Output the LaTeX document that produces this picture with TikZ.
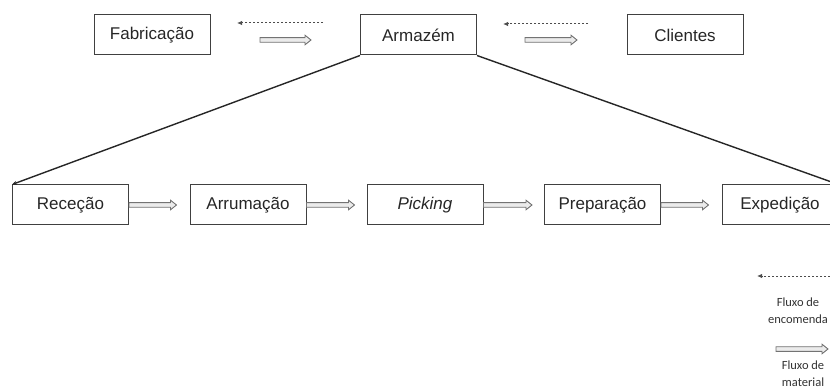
\documentclass[tikz,border=0pt]{standalone}
\usepackage{fontspec}
\setmainfont{Liberation Sans}
\newfontfamily\legendfont{Carlito}
\usetikzlibrary{arrows.meta,calc}

\begin{document}
\begin{tikzpicture}[x=1pt,y=-1pt,
  box/.style={draw=black!75, line width=1pt, minimum width=116pt, minimum height=40pt,
    inner sep=0pt, font=\fontsize{17}{20}\selectfont, text=black!85},
  % hollow block arrow for the material flow
  flow/.style={draw=black!55, fill=black!8, line width=0.9pt, line join=miter,
    to path={let \p1=(\tikztostart), \p2=(\tikztotarget) in
      (\x1,{\y1+2.3pt}) -- ({\x2-6pt},{\y1+2.3pt}) -- ({\x2-6pt},{\y1+4.8pt})
      -- (\x2,\y1) -- ({\x2-6pt},{\y1-4.8pt}) -- ({\x2-6pt},{\y1-2.3pt})
      -- (\x1,{\y1-2.3pt}) -- cycle}},
  order/.style={draw=black!70, line width=1pt, dash pattern=on 2pt off 2pt,
    -{Latex[length=5pt,width=4.5pt]}},
  link/.style={draw=black!85, line width=1.4pt},
  legend/.style={font=\legendfont\fontsize{12.5}{17}\selectfont, align=center, text=black!80}]

  \useasboundingbox (0,0) rectangle (830,390);
  \clip (0,0) rectangle (830,390);

  % supply chain level
  \node[box] (fab) at (152,35) {Fabricação};
  \node[box] (arm) at (418.5,35) {Armazém};
  \node[box] (cli) at (685,35) {Clientes};

  % warehouse processes
  \node[box] (rec) at (70.5,205) {Receção};
  \node[box] (arr) at (248,205) {Arrumação};
  \node[box] (pic) at (425,205) {\itshape Picking};
  \node[box] (pre) at (602.5,205) {Preparação};
  \node[box] (exp) at (780,205) {Expedição};

  % flows between the top-level actors
  \coordinate (o1s) at (323,23);  \coordinate (o1e) at (237,23);
  \coordinate (m1s) at (260,40);  \coordinate (m1e) at (311,40);
  \coordinate (o2s) at (588,24);  \coordinate (o2e) at (503,24);
  \coordinate (m2s) at (525,40);  \coordinate (m2e) at (577,40);
  \draw[order] (o1s) -- (o1e);
  \draw[flow] (m1s) to (m1e);
  \draw[order] (o2s) -- (o2e);
  \draw[flow] (m2s) to (m2e);

  % expansion of the warehouse
  \draw[link, -{Stealth[length=5pt,width=4pt]}] (arm.south west) -- (rec.north west);
  \draw[link, -{Stealth[length=5pt,width=4pt]}] (arm.south east) -- (exp.north east);

  % material flow through the processes
  \draw[flow] (rec.east) to ([xshift=-13pt]arr.west);
  \draw[flow] (arr.east) to ([xshift=-12pt]pic.west);
  \draw[flow] (pic.east) to ([xshift=-12pt]pre.west);
  \draw[flow] (pre.east) to ([xshift=-13pt]exp.west);

  % legend
  \coordinate (lo1) at (830,276); \coordinate (lo2) at (757,276);
  \draw[order] (lo1) -- (lo2);
  \node[legend] (lt1) at (798,311) {Fluxo de\\encomenda};
  \coordinate (lm1) at (776,349); \coordinate (lm2) at (828,349);
  \draw[flow] (lm1) to (lm2);
  \node[legend] (lt2) at (803,374) {Fluxo de\\material};
\end{tikzpicture}
\end{document}
